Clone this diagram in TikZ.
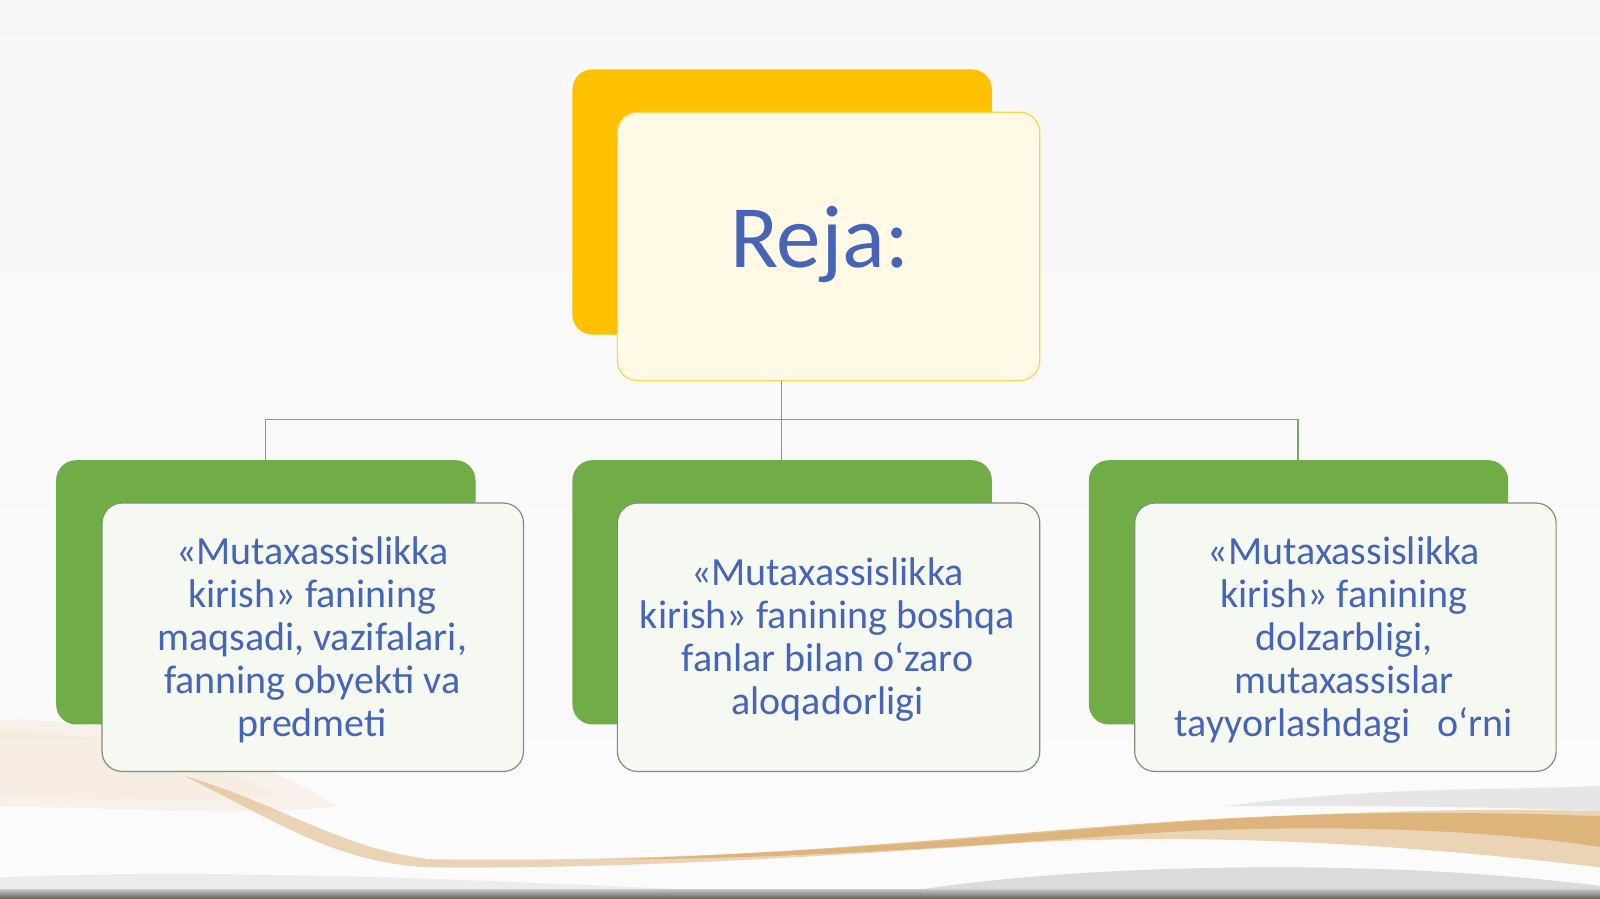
\documentclass[tikz,border=0pt]{standalone}
\usepackage{fontspec}
\setmainfont{Carlito}
\definecolor{ybk}{HTML}{FFC000}
\definecolor{gbk}{HTML}{70AD47}
\definecolor{txtblue}{HTML}{4664B8}
\definecolor{cream}{HTML}{FFF9E6}
\definecolor{lgreen}{HTML}{F5F9F2}
\definecolor{lnk}{HTML}{7DA862}
\definecolor{gold}{HTML}{D29A4E}
\definecolor{peach}{HTML}{F6E2CC}
\begin{document}
\begin{tikzpicture}[x=1.0204pt,y=-1.0204pt,
  backbox/.style={rounded corners=20pt},
  frontbox/.style={rounded corners=20pt, line width=1.2pt},
  bodytext/.style={text=txtblue, align=center, font=\fontsize{40}{43}\selectfont},
  link/.style={draw=lnk, line width=1.4pt}]
% background
\shade[top color=white!94!gray, bottom color=white!97!gray] (0,0) rectangle (1568,881);
\useasboundingbox (0,0) rectangle (1568,881);
% waves
\foreach \o in {0.12,0.12,0.12}{
\fill[peach, opacity=\o] (0,705) .. controls (150,708) and (250,740) .. (330,790) .. controls (250,800) and (120,792) .. (0,790) -- cycle;}
\fill[peach, opacity=0.25] (0,715) .. controls (120,720) and (210,745) .. (270,780) .. controls (200,788) and (100,782) .. (0,780) -- cycle;
\fill[gold, opacity=0.4] (180,760) .. controls (280,790) and (330,830) .. (420,842) .. controls (600,845) and (800,835) .. (1000,818) .. controls (1200,800) and (1400,790) .. (1568,795) -- (1568,850) .. controls (1400,830) and (1200,815) .. (1000,826) .. controls (800,840) and (600,852) .. (420,850) .. controls (330,845) and (280,810) .. (180,760) -- cycle;
\fill[gold, opacity=0.55] (600,842) .. controls (800,836) and (1000,815) .. (1150,805) .. controls (1300,795) and (1450,795) .. (1568,800) -- (1568,830) .. controls (1450,812) and (1300,808) .. (1150,815) .. controls (1000,825) and (800,842) .. (600,842) -- cycle;
\fill[gray!35, opacity=0.5] (1200,790) .. controls (1350,770) and (1480,775) .. (1568,770) -- (1568,795) .. controls (1450,790) and (1350,790) .. (1200,790) -- cycle;
\fill[gray!45, opacity=0.6] (850,881) .. controls (950,860) and (1100,850) .. (1250,850) .. controls (1400,850) and (1500,860) .. (1568,868) -- (1568,881) -- cycle;
\fill[gray!25, opacity=0.5] (0,860) .. controls (200,850) and (500,862) .. (850,881) -- (0,881) -- cycle;
\shade[top color=gray!50, bottom color=gray!75!black] (0,872) rectangle (1568,881);
% top
\fill[ybk, backbox] (561,68) rectangle (972,328);
\draw[frontbox, draw=ybk!70, fill=cream] (605,110) rectangle (1019,373);
\node[text=txtblue, font=\fontsize{89}{100}\selectfont] (top) at (803,240) {Reja:};
\coordinate (topb) at (766,373);
% lower boxes
\fill[gbk, backbox] (55,451) rectangle (466,710);
\draw[frontbox, draw=gray!60!lnk, fill=lgreen] (100,493) rectangle (513,756);
\fill[gbk, backbox] (561,451) rectangle (972,710);
\draw[frontbox, draw=gray!60!lnk, fill=lgreen] (605,493) rectangle (1019,756);
\fill[gbk, backbox] (1067,451) rectangle (1478,710);
\draw[frontbox, draw=gray!60!lnk, fill=lgreen] (1112,493) rectangle (1525,756);
\coordinate (la) at (260,451);
\coordinate (ma) at (766,451);
\coordinate (ra) at (1272,451);
\coordinate (j) at (766,411);
% texts
\node[bodytext] (lt) at (306,627) {«Mutaxassislikka\\kirish» fanining\\maqsadi, vazifalari,\\fanning obyekti va\\predmeti};
\node[bodytext] (mt) at (811,627) {«Mutaxassislikka\\kirish» fanining boshqa\\fanlar bilan o‘zaro\\aloqadorligi};
\node[bodytext] (rt) at (1317,627) {«Mutaxassislikka\\kirish» fanining\\dolzarbligi,\\mutaxassislar\\tayyorlashdagi\ \ \ o‘rni};
% connectors
\draw[link] (topb) -- (j);
\draw[link] (la) |- (j) -| (ra);
\draw[link] (j) -- (ma);
\end{tikzpicture}
\end{document}
